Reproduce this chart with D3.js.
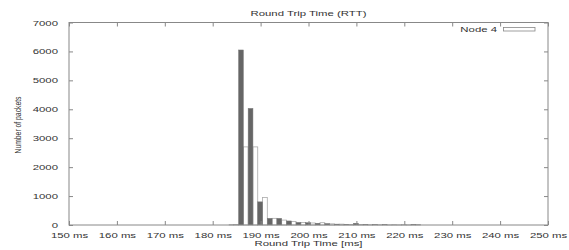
<!DOCTYPE html>
<html>
<head>
<script src="https://d3js.org/d3.v7.min.js"></script>
<style>
 body {margin: 0; background: #fff;}
 svg {display: block;}
 text {font-family: "Liberation Sans", Arial, sans-serif; fill: #333;}
</style>
<title>Round Trip Time (RTT)</title>
</head>
<body>
<div id="chart"></div>
<script>
// bin centres (ms), bins are 2 ms wide
var binCentres = [184.4, 186.4, 188.4, 190.4, 192.4, 194.4, 196.4, 198.4, 200.4, 202.4,
                  204.4, 206.4, 208.4, 210.4, 212.4, 214.4, 216.4, 218.4, 220.4, 222.4];
// dark series (no legend title)
var otherNode = [5, 6050, 4030, 800, 230, 230, 140, 90, 80, 60,
                 50, 30, 20, 60, 15, 10, 10, 5, 5, 15];
// Node 4 (white bars)
var node4 = [20, 2700, 2700, 950, 230, 170, 120, 90, 70, 80,
             40, 30, 20, 15, 10, 10, 5, 5, 5, 20];
var xTicks = [150, 160, 170, 180, 190, 200, 210, 220, 230, 240, 250];
var yTicks = [0, 1000, 2000, 3000, 4000, 5000, 6000, 7000];

var width = 569, height = 250;
var pLeft = 69, pRight = 548, pTop = 22.5, pBottom = 225;
var stretch = 1.42;

var svg = d3.select("#chart").append("svg").attr("width", width).attr("height", height);

var x = d3.scaleLinear().domain([150, 250]).range([pLeft, pRight]);
var y = d3.scaleLinear().domain([0, 7000]).range([pBottom, pTop]);

// bars
var bins = binCentres.map(function(c, i){ return {c: c, a: otherNode[i], b: node4[i]}; });

svg.selectAll("rect.n4").data(bins).enter().append("rect")
   .attr("class", "n4")
   .attr("x", function(d){ return x(d.c); })
   .attr("width", function(d){ return x(d.c + 1) - x(d.c); })
   .attr("y", function(d){ return y(d.b); })
   .attr("height", function(d){ return y(0) - y(d.b); })
   .attr("fill", "#fff").attr("stroke", "#aaa").attr("stroke-width", 0.8);

svg.selectAll("rect.other").data(bins).enter().append("rect")
   .attr("class", "other")
   .attr("x", function(d){ return x(d.c - 1); })
   .attr("width", function(d){ return x(d.c) - x(d.c - 1); })
   .attr("y", function(d){ return y(d.a); })
   .attr("height", function(d){ return y(0) - y(d.a); })
   .attr("fill", "#666").attr("stroke", "#777").attr("stroke-width", 0.5);

// axes, gnuplot style: ticks inside, mirrored
function styleAxis(g) {
  g.select(".domain").remove();
  g.selectAll(".tick line").attr("stroke", "#888");
  g.selectAll("text").attr("fill", "#333").style("font-size", "8px").attr("font-family", null);
}

var xb = svg.append("g").attr("transform", "translate(0," + pBottom + ")")
   .call(d3.axisBottom(x).tickValues(xTicks).tickSize(-4).tickPadding(7)
         .tickFormat(function(d){ return d + " ms"; }));
styleAxis(xb);
svg.append("g").attr("transform", "translate(0," + pTop + ")")
   .call(d3.axisTop(x).tickValues(xTicks).tickSize(-4).tickFormat(""))
   .call(styleAxis);
var yl = svg.append("g").attr("transform", "translate(" + pLeft + ",0)")
   .call(d3.axisLeft(y).tickValues(yTicks).tickSize(-4).tickPadding(11).tickFormat(d3.format("d")));
styleAxis(yl);
svg.append("g").attr("transform", "translate(" + pRight + ",0)")
   .call(d3.axisRight(y).tickValues(yTicks).tickSize(-4).tickFormat(""))
   .call(styleAxis);

// border
svg.append("rect").attr("x", pLeft).attr("y", pTop)
   .attr("width", pRight - pLeft).attr("height", pBottom - pTop)
   .attr("fill", "none").attr("stroke", "#888").attr("stroke-width", 1);

// titles
svg.append("text").attr("x", (pLeft + pRight) / 2).attr("y", 16)
   .attr("text-anchor", "middle").style("font-size", "8px").text("Round Trip Time (RTT)");
svg.append("text").attr("x", (pLeft + pRight) / 2).attr("y", 246)
   .attr("text-anchor", "middle").style("font-size", "8px").text("Round Trip Time [ms]");
svg.append("text").attr("transform", "translate(21,125) rotate(-90)")
   .attr("text-anchor", "middle").style("font-size", "8.5px")
   .attr("textLength", 57).attr("lengthAdjust", "spacingAndGlyphs")
   .text("Number of packets");

// legend
svg.append("text").attr("x", 497).attr("y", 32).attr("text-anchor", "end")
   .style("font-size", "8px").text("Node 4");
svg.append("rect").attr("x", 503.5).attr("y", 27.5).attr("width", 31.5).attr("height", 3.5)
   .attr("fill", "#fff").attr("stroke", "#888").attr("stroke-width", 0.8);

// widen the text like the original rendering
svg.selectAll("text").filter(function(){ return !this.hasAttribute("textLength"); })
   .each(function(){
     var len = this.getComputedTextLength();
     if (len > 0) d3.select(this).attr("textLength", len * stretch).attr("lengthAdjust", "spacingAndGlyphs");
   });
</script>
</body>
</html>
